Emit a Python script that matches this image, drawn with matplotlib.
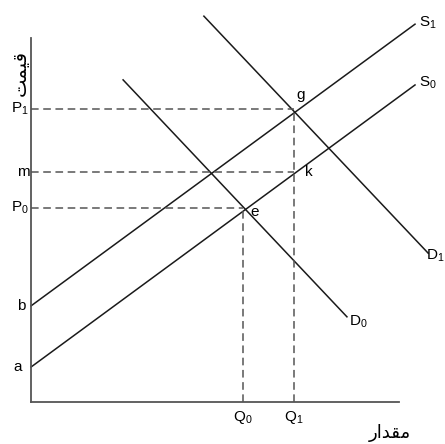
import matplotlib
matplotlib.use("Agg")
import matplotlib.pyplot as plt

plt.rcParams['font.family'] = ['Liberation Sans', 'DejaVu Sans']
plt.rcParams['mathtext.fontset'] = 'custom'
plt.rcParams['mathtext.rm'] = 'Liberation Sans'

# curves (quantity, price)
s0_x = [0.0, 10.55]
s0_y = [0.96, 8.71]
s1_x = [0.0, 10.55]
s1_y = [2.64, 10.38]
d0_x = [2.53, 8.68]
d0_y = [8.85, 2.34]
d1_x = [4.75, 10.91]
d1_y = [10.60, 4.09]

# equilibrium levels
q0, q1 = 5.82, 7.23
p0, m_level, p1 = 5.33, 6.32, 8.05
a_level, b_level = 0.96, 2.64

# persian labels, shaped by hand (presentation forms, visual order)
price_label = "\uFE96\uFEE4\uFEF4\uFED7"       # قیمت
qty_label = "\uFEAD\uFE8D\uFEAA\uFED8\uFEE3"   # مقدار

fig = plt.figure(figsize=(4.45, 4.44), dpi=100)
ax = fig.add_axes([31/445, 42/444, 368/445, 364/444])
ax.set_xlim(0, 10.11)
ax.set_ylim(0, 10.0)
for sp in ['top', 'right']:
    ax.spines[sp].set_visible(False)
for sp in ['left', 'bottom']:
    ax.spines[sp].set_color('#555555')
    ax.spines[sp].set_linewidth(1.3)
ax.set_xticks([])
ax.set_yticks([])

lw = 1.1
for xs, ys in [(s0_x, s0_y), (s1_x, s1_y), (d0_x, d0_y), (d1_x, d1_y)]:
    ax.plot(xs, ys, color='#1a1a1a', lw=lw, clip_on=False)

dash = dict(color='#555555', lw=1.1, ls=(0, (5, 3)), clip_on=False)
ax.plot([0, q1], [p1, p1], **dash)
ax.plot([0, q1], [m_level, m_level], **dash)
ax.plot([0, q0], [p0, p0], **dash)
ax.plot([q0, q0], [0, p0], **dash)
ax.plot([q1, q1], [0, p1], **dash)

fs = 11
sub = r'$_\mathregular{%s}$'
# y-axis labels
ax.text(-0.05, p1, 'P' + sub % '1', ha='right', va='center', fontsize=fs)
ax.text(-0.05, m_level, 'm', ha='right', va='center', fontsize=fs)
ax.text(-0.05, p0, 'P' + sub % '0', ha='right', va='center', fontsize=fs)
ax.text(-0.15, b_level, 'b', ha='right', va='center', fontsize=fs)
ax.text(-0.25, a_level, 'a', ha='right', va='center', fontsize=fs)
# x-axis labels
ax.text(q0, -0.2, 'Q' + sub % '0', ha='center', va='top', fontsize=fs)
ax.text(q1, -0.2, 'Q' + sub % '1', ha='center', va='top', fontsize=fs)
# points
ax.text(q0 + 0.2, p0 - 0.1, 'e', ha='left', va='center', fontsize=fs)
ax.text(q1 + 0.05, p1 + 0.38, 'g', ha='left', va='center', fontsize=fs)
ax.text(q1 + 0.3, m_level, 'k', ha='left', va='center', fontsize=fs)
# curve labels
ax.text(s1_x[1] + 0.1, s1_y[1] + 0.05, 'S' + sub % '1', ha='left', va='center', fontsize=fs, clip_on=False)
ax.text(s0_x[1] + 0.1, s0_y[1] + 0.05, 'S' + sub % '0', ha='left', va='center', fontsize=fs, clip_on=False)
ax.text(d0_x[1] + 0.05, d0_y[1] - 0.12, 'D' + sub % '0', ha='left', va='center', fontsize=fs)
ax.text(d1_x[1] - 0.05, d1_y[1] - 0.08, 'D' + sub % '1', ha='left', va='center', fontsize=fs)

# axis names
ax.text(-0.3, 9.05, price_label, rotation=90, ha='center', va='center',
        fontsize=14, family=['DejaVu Sans'])
ax.text(9.85, -0.85, qty_label, ha='center', va='center',
        fontsize=13, family=['DejaVu Sans'])

fig.savefig('out.png', dpi=100)
